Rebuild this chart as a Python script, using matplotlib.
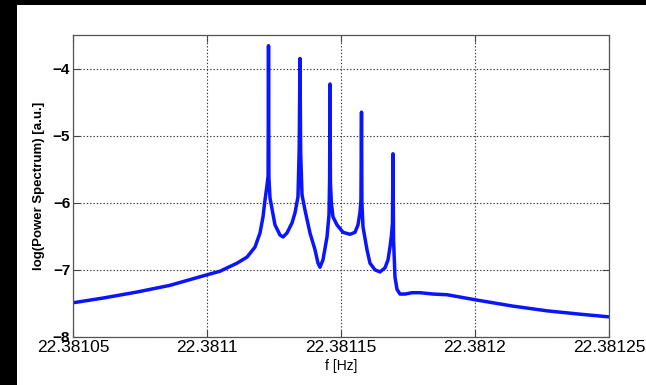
import matplotlib
matplotlib.use("Agg")
import matplotlib.pyplot as plt
from matplotlib import font_manager
from matplotlib.patches import Rectangle

# Spectrum samples: frequency [Hz] and log power [a.u.]
freq = [
    22.38105000, 22.38106119, 22.38107388, 22.38108619, 22.38109851,
    22.38110485, 22.38111119, 22.38111492, 22.38111791, 22.38111978,
    22.38112090, 22.38112164, 22.38112239, 22.38112280, 22.38112295,
    22.38112310, 22.38112351, 22.38112537, 22.38112724, 22.38112836,
    22.38112985, 22.38113172, 22.38113284, 22.38113395, 22.38113440,
    22.38113470, 22.38113495, 22.38113545, 22.38113657, 22.38113843,
    22.38114030, 22.38114142, 22.38114216, 22.38114328, 22.38114478,
    22.38114552, 22.38114575, 22.38114590, 22.38114605, 22.38114640,
    22.38114701, 22.38114851, 22.38115075, 22.38115336, 22.38115522,
    22.38115634, 22.38115709, 22.38115745, 22.38115765, 22.38115780,
    22.38115821, 22.38115970, 22.38116082, 22.38116269, 22.38116455,
    22.38116642, 22.38116754, 22.38116828, 22.38116884, 22.38116920,
    22.38116940, 22.38116960, 22.38117015, 22.38117090, 22.38117201,
    22.38117388, 22.38117649, 22.38117948, 22.38118433, 22.38118955,
    22.38120075, 22.38121418, 22.38122687, 22.38123918, 22.38125000,
]
log_power = [
    -7.49, -7.42, -7.33, -7.23, -7.09,
    -7.02, -6.90, -6.81, -6.66, -6.45,
    -6.21, -5.96, -5.74, -5.60, -3.66,
    -5.62, -5.93, -6.33, -6.48, -6.51,
    -6.45, -6.30, -6.15, -5.91, -5.20,
    -3.85, -5.25, -5.88, -6.11, -6.45,
    -6.70, -6.90, -6.96, -6.85, -6.51,
    -6.18, -5.65, -4.23, -5.70, -6.00,
    -6.21, -6.33, -6.44, -6.47, -6.44,
    -6.33, -6.14, -5.95, -4.65, -6.00,
    -6.36, -6.70, -6.90, -7.00, -7.03,
    -6.97, -6.85, -6.66, -6.48, -6.30,
    -5.27, -6.55, -7.11, -7.29, -7.36,
    -7.36, -7.34, -7.34, -7.36, -7.37,
    -7.45, -7.54, -7.61, -7.66, -7.70,
]

x_ticks = [22.38105, 22.3811, 22.38115, 22.3812, 22.38125]
x_tick_labels = ["22.38105", "22.3811", "22.38115", "22.3812", "22.38125"]
y_ticks = [-8, -7, -6, -5, -4]
y_tick_labels = ["\u22128", "\u22127", "\u22126", "\u22125", "\u22124"]

available = {f.name for f in font_manager.fontManager.ttflist}
narrow = "Liberation Sans Narrow" if "Liberation Sans Narrow" in available else "Liberation Sans"

fig = plt.figure(figsize=(6.46, 3.85), dpi=100, facecolor="white")
# dark frame strips along the left and top edges
fig.patches.append(Rectangle((0, 0), 17 / 646, 1, transform=fig.transFigure,
                             facecolor="black", edgecolor="none", zorder=-1))
fig.patches.append(Rectangle((0, 380 / 385), 1, 5 / 385, transform=fig.transFigure,
                             facecolor="black", edgecolor="none", zorder=-1))

ax = fig.add_axes([73 / 646, 1 - 337 / 385, 536 / 646, 302 / 385])
ax.set_facecolor("white")
ax.plot(freq, log_power, color="#0a14ff", linewidth=2.5,
        solid_joinstyle="round", solid_capstyle="round")

ax.set_xlim(22.38105, 22.38125)
ax.set_ylim(-8, -3.5)
ax.set_xticks(x_ticks)
ax.set_xticklabels(x_tick_labels, fontfamily=narrow, fontsize=12.5)
ax.set_yticks(y_ticks)
ax.set_yticklabels(y_tick_labels, fontfamily="Liberation Sans", fontsize=11, fontweight="bold")

ax.grid(True, color="#333333", linestyle=(0, (1.2, 1.8)), linewidth=0.8)
ax.tick_params(direction="in", length=5, width=0.8, color="#444444",
               top=True, right=True, pad=2)
for s in ax.spines.values():
    s.set_color("#555555")
    s.set_linewidth(0.9)

ax.set_xlabel("f [Hz]", fontfamily=narrow, fontsize=10, labelpad=3)
ax.set_ylabel("log(Power Spectrum) [a.u.]", fontfamily="Liberation Sans",
              fontsize=9.5, fontweight="bold", labelpad=6)

fig.savefig("out.png", dpi=100, facecolor="white")
